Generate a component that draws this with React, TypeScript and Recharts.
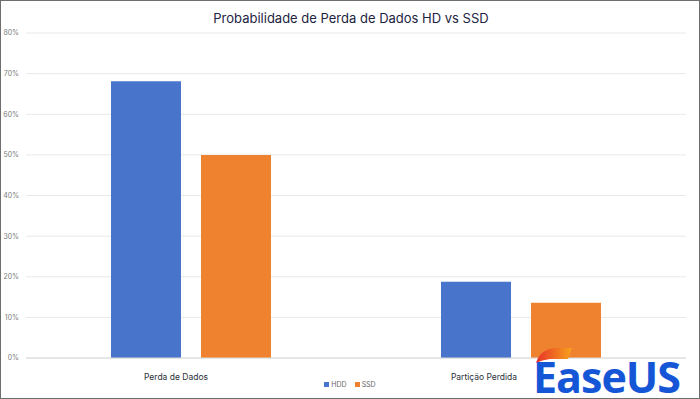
import React from 'react';
import { BarChart, Bar, XAxis, YAxis, CartesianGrid, Legend } from 'recharts';

const categories = ['Perda de Dados', 'Partição Perdida'];
const hddValues = [68.1, 18.8];
const ssdValues = [50.0, 13.6];
const yTicks = [0, 10, 20, 30, 40, 50, 60, 70, 80];

const data = categories.map((name, i) => ({ name, HDD: hddValues[i], SSD: ssdValues[i] }));

const FONT = 'Inter, "Open Sans", "Noto Sans", sans-serif';
const labelShift = [-15, -37];

const CategoryTick = (props: any) => {
  const { x, y, payload, index } = props;
  return (
    <text
      x={x + (labelShift[index] ?? 0)}
      y={y}
      dy={8}
      textAnchor="middle"
      fontSize={8.5}
      fill="#2b2f3a"
      fontFamily={FONT}
    >
      {payload.value}
    </text>
  );
};

const LegendContent = (props: any) => {
  const { payload } = props;
  return (
    <div style={{ display: 'flex', justifyContent: 'center', gap: 8, fontSize: 7, color: '#666', fontFamily: FONT }}>
      {(payload || []).map((p: any) => (
        <span key={p.value} style={{ display: 'inline-flex', alignItems: 'center' }}>
          <span style={{ display: 'inline-block', width: 5, height: 5, background: p.color, marginRight: 2 }} />
          {p.value}
        </span>
      ))}
    </div>
  );
};

export default function App() {
  return (
    <div
      style={{
        position: 'absolute',
        left: 0,
        top: 0,
        width: 700,
        height: 399,
        boxSizing: 'border-box',
        border: '1px solid #6e6e6e',
        background: '#fff',
        overflow: 'hidden',
        fontFamily: FONT,
      }}
    >
      <div
        style={{
          position: 'absolute',
          top: 9,
          left: 0,
          width: 700,
          textAlign: 'center',
          fontSize: 13,
          color: '#1d2442',
          fontFamily: FONT,
        }}
      >
        Probabilidade de Perda de Dados HD vs SSD
      </div>
      <div style={{ position: 'absolute', left: -1, top: -1 }}>
        <BarChart
          width={700}
          height={399}
          data={data}
          margin={{ top: 33, right: 14, bottom: 10, left: 0 }}
          barGap={20}
          barSize={70}
        >
          <CartesianGrid vertical={false} stroke="#e8e8e8" strokeWidth={1} />
          <XAxis
            dataKey="name"
            height={22}
            tickLine={false}
            axisLine={{ stroke: '#d9d9d9' }}
            tick={<CategoryTick />}
            tickMargin={8}
            interval={0}
          />
          <YAxis
            width={26}
            domain={[0, 80]}
            ticks={yTicks}
            tickFormatter={(v: number) => `${v}%`}
            tickLine={false}
            axisLine={false}
            tickSize={0}
            tickMargin={7}
            tick={{ fontSize: 7, fill: '#7a7a7a', fontFamily: FONT }}
          />
          <Legend
            verticalAlign="bottom"
            align="center"
            content={<LegendContent />}
            wrapperStyle={{ left: 0, width: 700 }}
          />
          <Bar dataKey="HDD" fill="#4874cb" isAnimationActive={false} />
          <Bar dataKey="SSD" fill="#ee822f" isAnimationActive={false} />
        </BarChart>
      </div>
      <svg
        width={170}
        height={60}
        style={{ position: 'absolute', left: 525, top: 338, overflow: 'visible' }}
      >
        <defs>
          <linearGradient id="swoosh" x1="0" x2="1" y1="0" y2="0">
            <stop offset="0%" stopColor="#e8322a" />
            <stop offset="100%" stopColor="#f7a21b" />
          </linearGradient>
        </defs>
        <path d="M10 24 Q14 10 30 9 L46 9 L42 20 L24 20 Q16 21 10 24 Z" fill="url(#swoosh)" />
        <text
          x={7}
          y={54}
          fontSize={43}
          fontWeight={700}
          fill="#1556d6"
          fontFamily='"Open Sans", Roboto, sans-serif'
          letterSpacing={-1}
        >
          EaseUS
        </text>
      </svg>
    </div>
  );
}
